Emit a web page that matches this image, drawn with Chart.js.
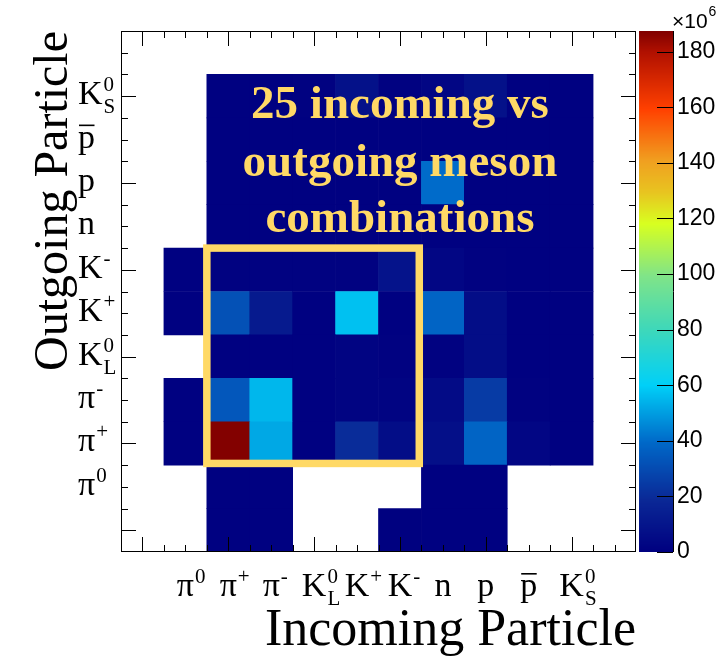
<!DOCTYPE html>
<html>
<head>
<meta charset="utf-8">
<title>Incoming vs outgoing particle</title>
<script src="https://cdn.jsdelivr.net/npm/chart.js@4.4.1/dist/chart.umd.min.js"></script>
<style>
    html, body { margin: 0; padding: 0; background: #fff; }
    #wrap { width: 723px; height: 660px; }
</style>
</head>
<body>
<div id="wrap"><canvas id="particleChart" width="723" height="660"></canvas></div>
<script>
// 12 bins on each axis, the outer ones stay empty
const nBins = 12;
const binNames = ["", "pi0", "pi+", "pi-", "KL0", "K+", "K-", "n", "p", "pbar", "KS0", ""];

// Particle labels for bins 1..10 (both axes)
const particles = [
    { base: "π", sup: "0" },
    { base: "π", sup: "+" },
    { base: "π", sup: "-" },
    { base: "K", sup: "0", sub: "L" },
    { base: "K", sup: "+" },
    { base: "K", sup: "-" },
    { base: "n" },
    { base: "p" },
    { base: "p", bar: true },
    { base: "K", sup: "0", sub: "S" },
];

// Entries (x10^6) per outgoing particle, indexed by incoming bin 0..11, null = empty
const rowBelow   = [null, null, 0.5, 0.5, null, null, 0.4, 0.5, 0.5, null, null, null];
const rowPi0     = [null, null, 0.5, 0.5, null, null, null, 0.5, 0.5, null, null, null];
const rowPiPlus  = [null, 0.5, 187, 52, 0.5, 20, 6, 7, 38, 3, 0.5, null];
const rowPiMinus = [null, 0.5, 34, 55, 0.5, 2, 2, 5, 25, 1, 0.5, null];
const rowKL0     = [null, null, 0.5, 0.5, 0.5, 2, 1, 1, 6, 0.5, 0.5, null];
const rowKPlus   = [null, 0.5, 32, 12, 0.5, 57, 0.5, 38, 6, 0.5, 0.5, null];
const rowKMinus  = [null, 0.5, 1, 1, 1, 1, 9, 3, 1, 0.5, 0.5, null];
const rowN       = [null, null, 0.5, 0.5, 0.5, 0.5, 0.5, 0.5, 0.5, 0.5, 0.5, null];
const rowP       = [null, null, 0.5, 0.5, 0.5, 0.5, 0.5, 40, 0.5, 0.5, 0.5, null];
const rowPbar    = [null, null, 0.5, 0.5, 0.5, 0.5, 0.5, 0.5, 0.5, 0.5, 0.5, null];
const rowKS0     = [null, null, 0.5, 0.5, 1, 8, 1, 3, 8, 0.5, 0.5, null];
const rowAbove   = [null, null, null, null, null, null, null, null, null, null, null, null];

const rows = [rowBelow, rowPi0, rowPiPlus, rowPiMinus, rowKL0, rowKPlus,
    rowKMinus, rowN, rowP, rowPbar, rowKS0, rowAbove];

// z axis range and ticks
const zMax = 187.4;
const zStep = 20;

// Annotation
const noteLines = ["25 incoming vs", "outgoing meson", "combinations"];
const gold = "#ffd966";

// rainbow palette, fraction of zMax -> rgb
const paletteStops = [
    [0.0, [0, 0, 128]],
    [0.1, [10, 40, 150]],
    [0.21, [0, 104, 200]],
    [0.32, [0, 208, 248]],
    [0.43, [64, 216, 184]],
    [0.53, [128, 228, 136]],
    [0.63, [216, 255, 32]],
    [0.69, [232, 196, 32]],
    [0.75, [240, 160, 32]],
    [0.85, [255, 64, 0]],
    [0.96, [176, 16, 0]],
    [1.0, [128, 0, 0]],
];

function colorFor(v) {
    const f = Math.min(1, Math.max(0, v / zMax));
    for (let i = 1; i < paletteStops.length; i++) {
        const [f1, c1] = paletteStops[i];
        if (f <= f1) {
            const [f0, c0] = paletteStops[i - 1];
            const t = (f - f0) / (f1 - f0);
            const c = c0.map((a, k) => Math.round(a + (c1[k] - a) * t));
            return `rgb(${c[0]},${c[1]},${c[2]})`;
        }
    }
    return "rgb(128,0,0)";
}

// one floating-bar dataset per outgoing row
const datasets = rows.map((row, r) => ({
    data: row.map((v) => (v === null ? null : [r, r + 1])),
    backgroundColor: row.map((v) => (v === null ? "rgba(0,0,0,0)" : colorFor(v))),
    borderWidth: 0,
    grouped: false,
    barPercentage: 1,
    categoryPercentage: 1,
}));

function drawParticle(ctx, p, x, baseline, centered) {
    ctx.font = "34px 'Liberation Serif'";
    ctx.textAlign = "left";
    ctx.textBaseline = "alphabetic";
    const w = ctx.measureText(p.base).width;
    const x0 = centered ? x - w / 2 : x;
    ctx.fillText(p.base, x0, baseline);
    if (p.bar) {
        ctx.fillRect(x0 + 1, baseline - 23, w - 1.5, 1.6);
    }
    ctx.font = "21px 'Liberation Serif'";
    if (p.sup) ctx.fillText(p.sup, x0 + w + 1, baseline - 13);
    if (p.sub) ctx.fillText(p.sub, x0 + w + 1, baseline + 9);
}

// Colour bar, frame, inward ticks, particle labels and the note
const rootStyle = {
    id: "rootStyle",
    beforeDatasetsDraw(chart) {
        const { ctx, chartArea } = chart;
        const z = chart.scales.z;
        const x0 = chartArea.right + 3;
        const x1 = chartArea.right + 37;
        ctx.save();
        for (let py = Math.floor(z.top); py < z.bottom; py++) {
            ctx.fillStyle = colorFor(z.getValueForPixel(py + 0.5));
            ctx.fillRect(x0, py, x1 - x0, 1);
        }
        ctx.strokeStyle = "#000";
        ctx.lineWidth = 1;
        ctx.beginPath();
        ctx.moveTo(x1 + 0.5, z.top);
        ctx.lineTo(x1 + 0.5, z.bottom);
        z.ticks.forEach((t) => {
            const py = Math.round(z.getPixelForValue(t.value)) + 0.5;
            ctx.moveTo(x1 - 16, py);
            ctx.lineTo(x1, py);
        });
        ctx.stroke();
        // exponent above the colour bar
        ctx.fillStyle = "#000";
        ctx.textBaseline = "alphabetic";
        ctx.textAlign = "left";
        ctx.font = "21px 'Liberation Sans'";
        ctx.fillText("×10", x1 - 1, 28);
        const w = ctx.measureText("×10").width;
        ctx.font = "14px 'Liberation Sans'";
        ctx.fillText("6", x1 - 1 + w + 1, 16);
        ctx.restore();
    },
    afterDatasetsDraw(chart) {
        const { ctx, chartArea } = chart;
        const xs = chart.scales.x;
        const ys = chart.scales.y;
        const { left, right, top, bottom } = chartArea;
        ctx.save();

        // note box around the meson block
        ctx.strokeStyle = gold;
        ctx.lineWidth = 7.5;
        const bx0 = xs.getPixelForValue(1.5);
        const bx1 = xs.getPixelForValue(6.45);
        const by0 = ys.getPixelForValue(7);
        const by1 = ys.getPixelForValue(2.04);
        ctx.strokeRect(bx0, by0, bx1 - bx0, by1 - by0);

        // note text
        ctx.fillStyle = gold;
        ctx.font = "bold 47px 'Liberation Serif'";
        ctx.textAlign = "center";
        ctx.textBaseline = "alphabetic";
        const noteY = [10, 8.67, 7.36];
        noteLines.forEach((line, i) => {
            ctx.fillText(line, xs.getPixelForValue(6), ys.getPixelForValue(noteY[i]));
        });

        // frame
        ctx.strokeStyle = "#000";
        ctx.lineWidth = 1;
        ctx.strokeRect(left + 0.5, top + 0.5, right - left - 1, bottom - top - 1);

        // inward ticks on all four sides
        ctx.beginPath();
        for (let v = 0; v <= nBins - 1; v += 0.5) {
            const len = v % 2 === 0 ? 15 : 7;
            const px = Math.round(xs.getPixelForValue(v)) + 0.5;
            ctx.moveTo(px, bottom);
            ctx.lineTo(px, bottom - len);
            ctx.moveTo(px, top);
            ctx.lineTo(px, top + len);
        }
        for (let v = 0.5; v <= nBins - 0.5; v += 0.5) {
            const len = (v - 0.5) % 2 === 0 ? 15 : 7;
            const py = Math.round(ys.getPixelForValue(v)) + 0.5;
            ctx.moveTo(left, py);
            ctx.lineTo(left + len, py);
            ctx.moveTo(right, py);
            ctx.lineTo(right - len, py);
        }
        ctx.stroke();

        // particle labels
        ctx.fillStyle = "#000";
        particles.forEach((p, i) => {
            drawParticle(ctx, p, xs.getPixelForValue(i + 1), bottom + 44, true);
            drawParticle(ctx, p, 78, ys.getPixelForValue(i + 1.5) + 8, false);
        });
        ctx.restore();
    },
};

const ctx = document.getElementById("particleChart").getContext("2d");
const particleChart = new Chart(ctx, {
    type: "bar",
    data: {
        labels: binNames,
        datasets: datasets,
    },
    options: {
        responsive: false,
        animation: false,
        devicePixelRatio: 1,
        layout: {
            padding: { top: 31, left: 0, right: 0, bottom: 0 },
        },
        plugins: {
            legend: { display: false },
            tooltip: { enabled: false },
        },
        scales: {
            x: {
                type: "category",
                offset: true,
                grid: { display: false },
                border: { display: false },
                ticks: { display: false },
                title: {
                    display: true,
                    text: "Incoming Particle",
                    align: "end",
                    color: "#000",
                    font: { family: "Liberation Serif", size: 52, lineHeight: 1 },
                    padding: { top: 0, bottom: 3 },
                },
                afterFit: (scale) => {
                    scale.height = 108;
                },
            },
            y: {
                type: "linear",
                min: 0,
                max: nBins,
                grid: { display: false },
                border: { display: false },
                ticks: { display: false },
                title: {
                    display: true,
                    text: "Outgoing Particle",
                    align: "end",
                    color: "#000",
                    font: { family: "Liberation Serif", size: 48, lineHeight: 1 },
                    padding: { top: 30, bottom: 0 },
                },
                afterFit: (scale) => {
                    scale.width = 121;
                },
            },
            z: {
                type: "linear",
                position: "right",
                min: 0,
                max: zMax,
                grid: {
                    drawOnChartArea: false,
                    tickLength: 41,
                    tickColor: "rgba(0,0,0,0)",
                },
                border: { display: false },
                ticks: {
                    stepSize: zStep,
                    includeBounds: false,
                    padding: 0,
                    color: "#000",
                    font: { family: "Liberation Sans", size: 23 },
                },
                afterFit: (scale) => {
                    scale.width = 87;
                },
            },
        },
    },
    plugins: [rootStyle],
});
</script>
</body>
</html>
